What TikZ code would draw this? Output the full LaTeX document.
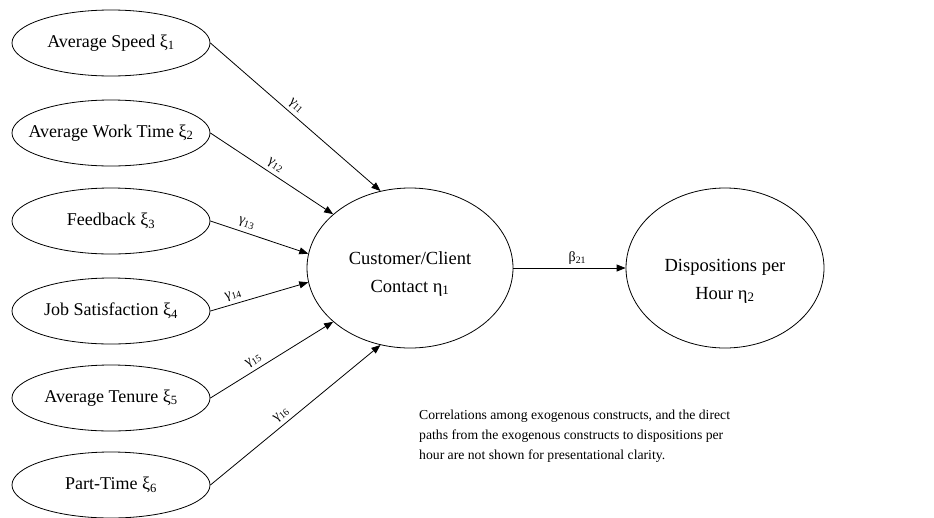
\documentclass[tikz,border=0pt]{standalone}
\usepackage{fontspec}
\setmainfont{Liberation Serif}
\usetikzlibrary{arrows.meta,shapes.geometric}

\tikzset{
	construct/.style={draw, ellipse, line width=0.8pt, inner ysep=0pt, inner xsep=-30pt,
		minimum width=198pt, minimum height=66pt,
		font=\fontsize{18}{21}\selectfont},
	latent/.style={draw, ellipse, line width=0.8pt, inner sep=0pt, align=center,
		minimum width=206pt, minimum height=160pt,
		font=\fontsize{18.5}{28}\selectfont},
	effect/.style={line width=0.8pt, -{Triangle[length=9pt,width=7pt]}},
	coef/.style={sloped, above, inner sep=3.5pt, font=\fontsize{14}{16}\selectfont},
	remark/.style={inner sep=0pt, align=left,
		font=\fontsize{13.7}{20}\selectfont}
}

\begin{document}
\begin{tikzpicture}[x=1pt,y=1pt]
	\useasboundingbox (0,0) rectangle (934,-517);
	
	% exogenous constructs
	\node[construct] (xi1) at (111,-43) {Average Speed ξ\textsubscript{1}};
	\node[construct] (xi2) at (111,-133) {Average Work Time ξ\textsubscript{2}};
	\node[construct] (xi3) at (111,-221) {Feedback ξ\textsubscript{3}};
	\node[construct] (xi4) at (111,-311) {Job Satisfaction ξ\textsubscript{4}};
	\node[construct] (xi5) at (111,-398) {Average Tenure ξ\textsubscript{5}};
	\node[construct] (xi6) at (111,-485) {Part-Time ξ\textsubscript{6}};
	
	% endogenous constructs
	\node[latent, text height=52pt] (eta1) at (410,-268) {Customer/Client\\Contact η\textsubscript{1}};
	\node[latent, text height=66pt, minimum width=198pt] (eta2) at (725,-268) {Dispositions per\\Hour η\textsubscript{2}};
	
	\foreach \i/\a/\p in {1/111/0.47, 2/145/0.49, 3/172/0.34, 4/188/0.26, 5/215/0.39, 6/249/0.45}{
		\draw[effect] (xi\i.east) -- node[coef, pos=\p] (g\i) {γ\textsubscript{1\i}} (eta1.\a);
	}
	
	\draw[effect] (eta1) -- node[coef, pos=0.57] (b21) {β\textsubscript{21}} (eta2);
	
	\node[remark, anchor=north west] (note) at (419,-410) {Correlations among exogenous constructs, and the direct\\paths from the exogenous constructs to dispositions per\\hour are not shown for presentational clarity.};
	
\end{tikzpicture}
\end{document}
